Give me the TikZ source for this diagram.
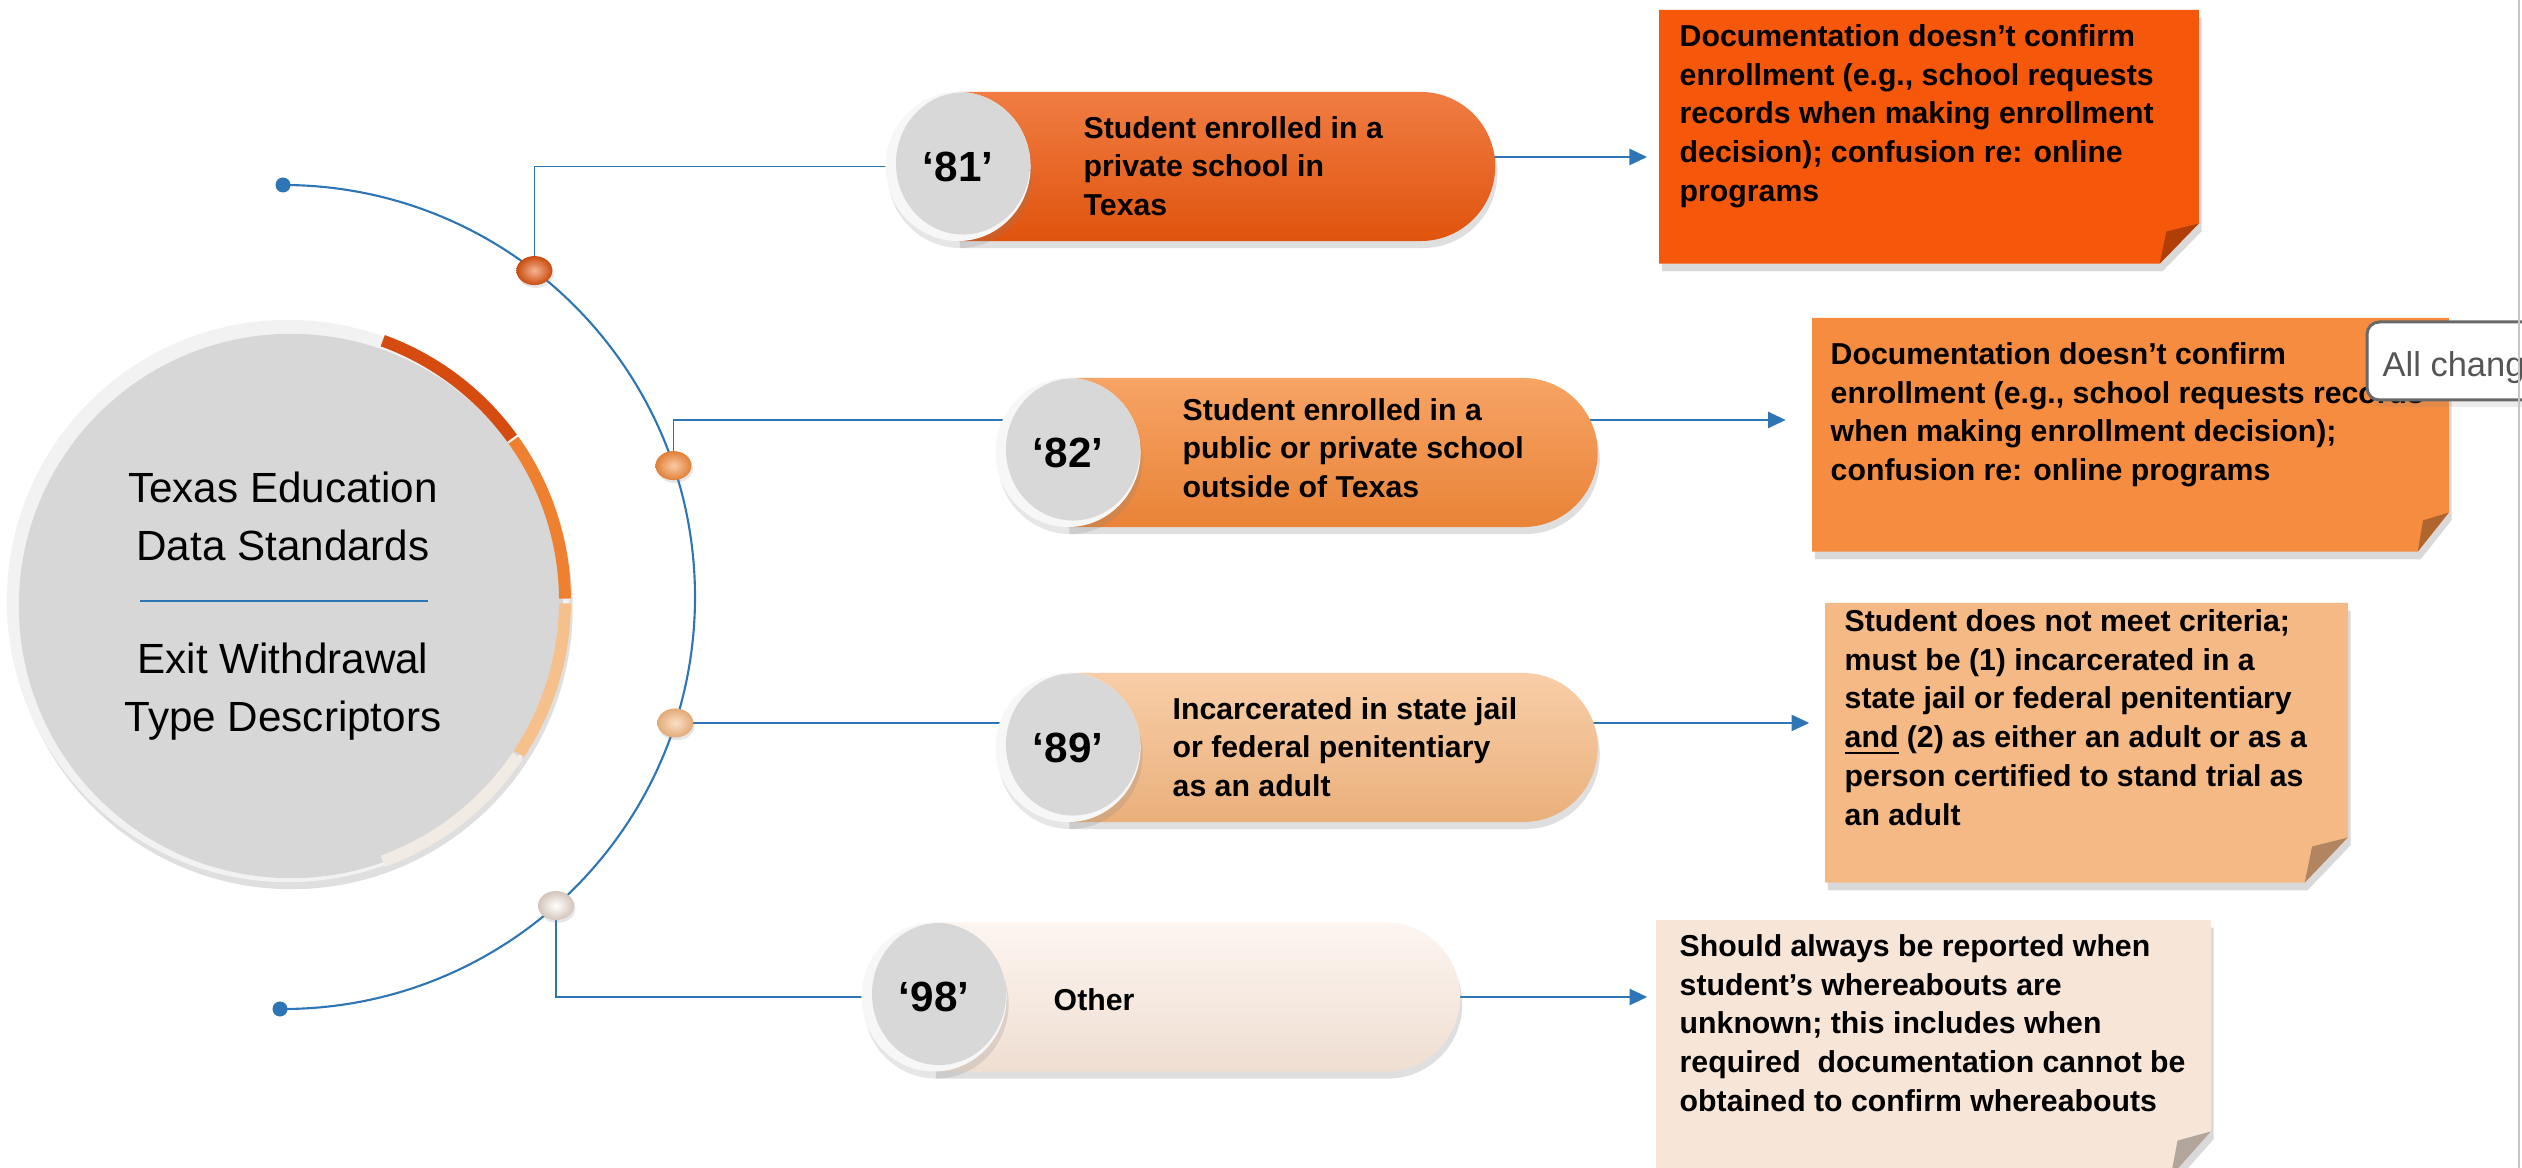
\documentclass[tikz,border=0pt]{standalone}
\usepackage{fontspec}
\setmainfont{Liberation Sans}
\usetikzlibrary{shapes.misc,shapes.geometric,arrows.meta,calc,shadows}
\pgfdeclarelayer{background}
\pgfsetlayers{background,main}
\definecolor{connc}{RGB}{46,117,182}
\definecolor{c81}{RGB}{236,88,14}
\definecolor{c82}{RGB}{245,138,58}
\definecolor{c89}{RGB}{246,185,130}
\definecolor{c98}{RGB}{249,231,218}
\definecolor{note81}{RGB}{245,88,10}
\definecolor{note82}{RGB}{246,140,64}
\definecolor{note89}{RGB}{245,185,134}
\definecolor{note98}{RGB}{247,229,215}
\definecolor{diskrim}{RGB}{247,247,247}
\definecolor{diskface}{RGB}{216,216,216}
\definecolor{circrim}{RGB}{242,242,242}
\definecolor{circface}{RGB}{215,215,215}
\definecolor{r1}{RGB}{214,76,16}
\definecolor{r2}{RGB}{238,128,48}
\definecolor{r3}{RGB}{246,192,140}
\definecolor{r4}{RGB}{242,235,228}
\definecolor{tipgray}{RGB}{105,105,105}
\definecolor{tiptext}{RGB}{85,85,85}
\newcommand{\bodyfont}{\fontsize{8.6}{11}\selectfont\bfseries}
\begin{document}
\begin{tikzpicture}[x=0.01cm, y=-0.01cm,
  conn/.style={draw=connc, line width=0.5pt},
  arr/.style={conn, -{Triangle[length=5pt,width=4.6pt]}},
  pbody/.style={rounded rectangle, rounded rectangle left arc=none, minimum height=1.49cm, inner sep=0pt,
     drop shadow={opacity=0.25, shadow xshift=0.6pt, shadow yshift=-2pt}},
  pdisk/.style={ellipse, minimum width=1.45cm, minimum height=1.49cm, inner sep=0pt, fill=diskrim,
     font=\fontsize{12}{14}\selectfont\bfseries,
     drop shadow={opacity=0.2, shadow xshift=0.6pt, shadow yshift=-2pt},
     path picture={\fill[diskface] ($(path picture bounding box.center)+(0.05cm,0.03cm)$) ellipse[x radius=0.67cm, y radius=0.71cm];}},
  ptext/.style={anchor=west, align=left, inner sep=0pt, font=\bodyfont},
  ntext/.style={anchor=north west, align=left, inner sep=0pt, font=\bodyfont},
  nbox/.style={anchor=north west, inner sep=0pt, rectangle},
  ballnode/.style={ellipse, minimum width=0.36cm, minimum height=0.29cm, inner sep=0pt,
     drop shadow={opacity=0.2, shadow xshift=0.4pt, shadow yshift=-0.8pt}},
  dotnode/.style={circle, fill=connc, minimum size=0.15cm, inner sep=0pt},
]
\useasboundingbox (0,0) rectangle (2522,1168);
\clip (0,0) rectangle (2522,1168);

% central circle
\node[circle, minimum size=5.62cm, inner sep=0pt, fill=circrim,
  drop shadow={opacity=0.25, shadow xshift=1pt, shadow yshift=-2pt},
  path picture={\fill[circface] ($(path picture bounding box.center)+(0.03cm,-0.05cm)$) circle[radius=2.72cm];}]
  (tc) at (288,601) {};
\foreach \a/\b/\col in {-70/-36/r1, -35.5/-0.5/r2, 0.5/33.5/r3, 34/70/r4}
  \draw[\col, line width=3.4pt] ($(tc.center)+(\a:277)$) arc[start angle=\a, end angle=\b, radius=277];
\node[align=center, inner sep=0pt, font=\fontsize{12}{16.5}\selectfont] (ct1) at (283,516) {Texas Education\\Data Standards};
\node[align=center, inner sep=0pt, font=\fontsize{12}{16.5}\selectfont] (ct2) at (283,692) {Exit Withdrawal\\Type Descriptors};
\draw[conn] (140,601) -- (428,601);

% arc end dots
\coordinate (C) at (283,597);
\node[dotnode] (dtop) at (283,185) {};
\node[dotnode] (dbot) at (280,1009) {};

% balls on the arc
\node[ballnode, shading=radial, inner color=c81!45!white, outer color=c81!85!black] (b81) at ($(C)+(-52.4:412)$) {};
\node[ballnode, shading=radial, inner color=c82!45!white, outer color=c82!92!black] (b82) at ($(C)+(-18.6:412)$) {};
\node[ballnode, shading=radial, inner color=c89!45!white, outer color=c89!92!black] (b89) at ($(C)+(17.8:412)$) {};
\node[ballnode, shading=radial, inner color=white, outer color=c98!85!black] (b98) at ($(C)+(48.5:412)$) {};

% pills
\node[pbody, minimum width=5.37cm, top color=c81!78!white, middle color=c81, bottom color=c81!95!black] (p81) at (1226.5,166.5) {};
\node[pdisk] (d81) at (958,166.5) {‘81’};
\node[ptext] (t81) at (1083,166) {Student enrolled in a\\private school in\\Texas};

\node[pbody, minimum width=5.3cm, top color=c82!78!white, middle color=c82, bottom color=c82!95!black] (p82) at (1332.5,452.5) {};
\node[pdisk] (d82) at (1068,452.5) {‘82’};
\node[ptext] (t82) at (1182,448) {Student enrolled in a\\public or private school\\outside of Texas};

\node[pbody, minimum width=5.3cm, top color=c89!70!white, middle color=c89, bottom color=c89!95!black] (p89) at (1332.5,747.5) {};
\node[pdisk] (d89) at (1068,747.5) {‘89’};
\node[ptext] (t89) at (1172,747) {Incarcerated in state jail\\or federal penitentiary\\as an adult};

\node[pbody, minimum width=5.26cm, top color=c98!40!white, middle color=c98, bottom color=c98!96!black] (p98) at (1197,997) {};
\node[pdisk] (d98) at (934,997) {‘98’};
\node[ptext] (t98) at (1053,1000) {Other};

% notes
\node[nbox, minimum width=5.38cm, minimum height=2.52cm] (n81) at (1659,10) {};
\node[nbox, minimum width=6.35cm, minimum height=2.32cm] (n82) at (1812,318) {};
\node[nbox, minimum width=5.21cm, minimum height=2.78cm] (n89) at (1825,603) {};
\node[nbox, minimum width=5.53cm, minimum height=2.55cm] (n98) at (1656,920) {};
\foreach \n/\c/\fx/\fy in {n81/note81/39/40, n82/note82/31/39, n89/note89/43/45, n98/note98/40/45} {
  \fill[\c, drop shadow={opacity=0.3, shadow xshift=0.8pt, shadow yshift=-2.2pt}]
    (\n.north west) -- (\n.north east) -- ($(\n.south east)+(0,-\fy)$) -- ($(\n.south east)+(-\fx,0)$) -- (\n.south west) -- cycle;
  \fill[\c!72!black] ($(\n.south east)+(0,-\fy)$) -- ($(\n.south east)+(-\fx,0)$) -- ($(\n.south east)+(-0.83*\fx,-0.8*\fy)$) -- cycle;
}
\node[ntext] (tn81) at (1679,24) {Documentation doesn’t confirm\\enrollment (e.g., school requests\\records when making enrollment\\decision); confusion re: online\\programs};
\node[ntext] (tn82) at (1830,342) {Documentation doesn’t confirm\\enrollment (e.g., school requests records\\when making enrollment decision);\\confusion re: online programs};
\node[ntext] (tn89) at (1844,609) {Student does not meet criteria;\\must be (1) incarcerated in a\\state jail or federal penitentiary\\\underline{and} (2) as either an adult or as a\\person certified to stand trial as\\an adult};
\node[ntext] (tn98) at (1679,934) {Should always be reported when\\student’s whereabouts are\\unknown; this includes when\\required\ \ documentation cannot be\\obtained to confirm whereabouts};

% tooltip overlay and right edge line
\draw[tipgray, line width=0.85pt, fill=white, rounded corners=3.5pt,
  drop shadow={opacity=0.15, shadow xshift=1pt, shadow yshift=-2pt}] (2367,322) rectangle (2570,400);
\node[anchor=base west, inner sep=0pt, text=tiptext, font=\fontsize{9.8}{12}\selectfont] (tip) at (2382,377) {All chang};
\draw[gray!45, line width=0.5pt] (2519,0) -- (2519,1168);

% connectors (behind)
\begin{pgfonlayer}{background}
\draw[conn, line width=0.6pt] (dtop.center) arc[start angle=-90, end angle=90, radius=412];
\coordinate (h81) at (0,157);
\coordinate (h82) at (0,420);
\draw[conn] (b81.center) |- (d81.center);
\draw[conn] (b82.center) |- (d82.center |- h82);
\draw[conn] (b89.center) -- (b89.center -| d89.center);
\draw[conn] (b98.center) |- (d98.center);
\draw[arr, shorten >=3.4pt] (p81.center |- h81) -- (n81.west |- h81);
\draw[arr, shorten >=7.5pt] (p82.center |- h82) -- (n82.west |- h82);
\draw[arr, shorten >=4.5pt] (p89.center |- b89.center) -- (n89.west |- b89.center);
\draw[arr, shorten >=2.5pt] (p98.center) -- (n98.west |- p98.center);
\end{pgfonlayer}
\end{tikzpicture}
\end{document}
